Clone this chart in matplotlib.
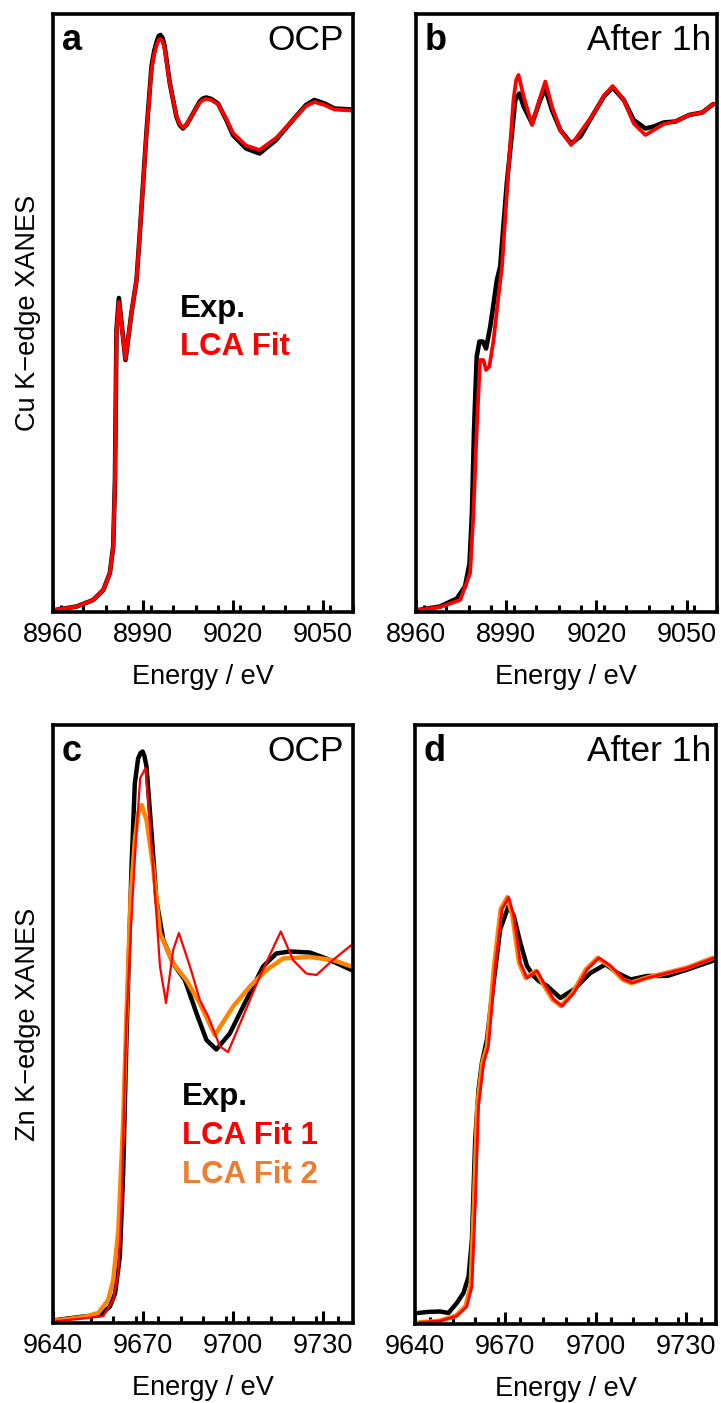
import matplotlib
matplotlib.use("Agg")
import matplotlib.pyplot as plt
from matplotlib.ticker import MultipleLocator

plt.rcParams['font.family'] = ['Liberation Sans', 'DejaVu Sans']

# ---- Cu K-edge, OCP (panel a) ----
cu_ocp_e = [8960.6, 8967.8, 8973.3, 8976.7, 8978.9, 8980.0, 8980.6, 8981.1, 8981.9,
            8984.1, 8986.1, 8987.8, 8988.9, 8991.1, 8992.8, 8993.7, 8994.5, 8995.2, 8995.8,
            8996.5, 8997.2, 8998.9, 9001.1, 9002.2, 9003.3, 9004.6, 9006.1, 9008.9,
            9010.0, 9011.1, 9012.8, 9015.0, 9017.8, 9020.0, 9024.4, 9028.9, 9034.4,
            9040.0, 9044.4, 9047.2, 9050.6, 9053.9, 9059.4]
cu_ocp_exp = [0.004, 0.011, 0.024, 0.044, 0.078, 0.131, 0.264, 0.564, 0.628,
              0.504, 0.598, 0.664, 0.758, 0.958, 1.091, 1.122, 1.140, 1.152, 1.154,
              1.148, 1.131, 1.058, 0.991, 0.974, 0.967, 0.975, 0.991, 1.021,
              1.027, 1.029, 1.026, 1.017, 0.984, 0.954, 0.927, 0.917, 0.944,
              0.984, 1.014, 1.024, 1.017, 1.007, 1.005]
cu_ocp_fit = [0.004, 0.011, 0.024, 0.044, 0.078, 0.131, 0.264, 0.560, 0.620,
              0.506, 0.598, 0.664, 0.758, 0.955, 1.085, 1.116, 1.133, 1.144, 1.146,
              1.141, 1.126, 1.058, 0.993, 0.976, 0.969, 0.976, 0.991, 1.019,
              1.024, 1.026, 1.024, 1.016, 0.986, 0.958, 0.933, 0.924, 0.948,
              0.984, 1.012, 1.020, 1.014, 1.005, 1.003]

# ---- Cu K-edge, after 1h (panel b) ----
cu_1h_e_exp = [8960.8, 8968.0, 8973.6, 8976.3, 8977.8, 8978.6, 8979.3, 8980.2, 8981.1,
               8982.2, 8983.3, 8984.7, 8985.8, 8986.9, 8988.0, 8990.2, 8991.9, 8993.0,
               8994.4, 8995.8, 8998.6, 9001.3, 9003.0, 9005.2, 9008.0, 9011.6, 9014.7,
               9019.1, 9022.5, 9025.4, 9029.1, 9032.4, 9036.3, 9039.1, 9042.4, 9046.3,
               9050.8, 9055.2, 9058.9]
cu_1h_exp = [0.004, 0.011, 0.027, 0.051, 0.097, 0.197, 0.364, 0.511, 0.541,
             0.541, 0.527, 0.571, 0.617, 0.664, 0.691, 0.857, 0.957, 1.024,
             1.037, 1.011, 0.977, 1.024, 1.047, 1.004, 0.964, 0.937, 0.951,
             0.997, 1.031, 1.049, 1.024, 0.984, 0.967, 0.971, 0.979, 0.981,
             0.994, 0.999, 1.016]
cu_1h_e_fit = [8960.8, 8968.0, 8974.7, 8978.0, 8979.1, 8980.2, 8981.3, 8982.4, 8983.3,
               8984.4, 8985.8, 8987.4, 8988.6, 8990.8, 8992.4, 8993.3, 8994.1, 8995.8,
               8998.6, 9001.0, 9003.0, 9005.2, 9008.0, 9011.6, 9019.1, 9022.5, 9025.4,
               9029.1, 9032.4, 9036.3, 9039.1, 9042.4, 9046.3, 9050.8, 9055.2, 9058.9]
cu_1h_fit = [0.004, 0.010, 0.024, 0.078, 0.197, 0.364, 0.504, 0.504, 0.484,
             0.491, 0.544, 0.631, 0.691, 0.891, 1.024, 1.064, 1.074, 1.031,
             0.974, 1.024, 1.061, 1.011, 0.964, 0.934, 0.997, 1.033, 1.052,
             1.024, 0.977, 0.954, 0.964, 0.976, 0.981, 0.994, 0.999, 1.016]

# ---- Zn K-edge, OCP (panel c) ----
zn_ocp_e_exp = [9641.1, 9650.0, 9655.6, 9658.9, 9660.6, 9662.2, 9663.3, 9664.4,
                9666.1, 9667.2, 9668.3, 9669.1, 9669.8, 9670.4, 9671.1, 9672.8, 9674.4,
                9676.7, 9680.0, 9683.9, 9687.8, 9691.1, 9694.4, 9698.9, 9704.4, 9710.0,
                9714.4, 9718.9, 9725.6, 9731.1, 9739.5]
zn_ocp_exp = [0.006, 0.013, 0.016, 0.033, 0.059, 0.133, 0.299, 0.566,
              0.913, 1.079, 1.129, 1.140, 1.143, 1.134, 1.113, 0.979, 0.846,
              0.766, 0.719, 0.686, 0.619, 0.566, 0.547, 0.579, 0.646, 0.713,
              0.739, 0.743, 0.741, 0.729, 0.706]
zn_ocp_e_fit1 = [9641.0, 9650.0, 9656.7, 9660.0, 9661.7, 9662.8, 9663.9, 9664.4, 9665.8,
                 9667.5, 9669.0, 9670.8, 9673.3, 9675.6, 9677.6, 9680.0, 9681.9, 9685.6,
                 9688.9, 9691.7, 9695.6, 9698.3, 9703.3, 9708.9, 9715.9, 9720.0, 9724.4,
                 9727.8, 9733.3, 9739.5]
zn_ocp_fit1 = [0.004, 0.009, 0.014, 0.046, 0.100, 0.233, 0.500, 0.600, 0.780,
               0.960, 1.090, 1.110, 0.913, 0.713, 0.640, 0.746, 0.780, 0.713,
               0.646, 0.613, 0.553, 0.542, 0.613, 0.693, 0.783, 0.726, 0.699,
               0.696, 0.726, 0.756]
zn_ocp_e_fit2 = [9641.0, 9650.0, 9655.0, 9658.3, 9660.0, 9661.7, 9663.3, 9664.4, 9665.8,
                 9667.2, 9668.3, 9669.5, 9671.1, 9673.3, 9675.6, 9680.0, 9684.4, 9688.9,
                 9693.9, 9700.0, 9705.6, 9711.1, 9716.7, 9725.6, 9733.3, 9739.5]
zn_ocp_fit2 = [0.005, 0.012, 0.020, 0.046, 0.086, 0.186, 0.400, 0.613, 0.853,
               0.966, 1.020, 1.036, 1.006, 0.913, 0.780, 0.719, 0.686, 0.639,
               0.576, 0.633, 0.673, 0.706, 0.729, 0.732, 0.726, 0.713]

# ---- Zn K-edge, after 1h (panel d) ----
zn_1h_e_exp = [9641.1, 9644.0, 9648.3, 9651.1, 9653.9, 9656.1, 9657.8, 9658.9, 9660.0,
               9661.1, 9662.2, 9663.9, 9666.1, 9668.3, 9671.1, 9672.8, 9675.0, 9677.2,
               9679.4, 9681.1, 9683.9, 9688.3, 9692.8, 9698.3, 9703.3, 9707.2, 9711.7,
               9717.2, 9723.9, 9730.6, 9738.9]
zn_1h_exp = [0.022, 0.024, 0.025, 0.022, 0.042, 0.062, 0.095, 0.168, 0.368,
             0.468, 0.521, 0.568, 0.681, 0.788, 0.835, 0.815, 0.761, 0.715,
             0.695, 0.685, 0.675, 0.651, 0.668, 0.701, 0.718, 0.701, 0.688,
             0.695, 0.695, 0.708, 0.725]
zn_1h_e_fit = [9641.7, 9648.3, 9653.9, 9657.2, 9658.9, 9660.0, 9661.1, 9662.8, 9664.4,
               9666.7, 9668.9, 9671.1, 9672.8, 9675.0, 9677.2, 9680.6, 9682.8, 9686.1,
               9688.9, 9692.8, 9697.2, 9701.1, 9705.0, 9709.4, 9712.2, 9717.2, 9723.9,
               9730.6, 9739.4]
zn_1h_fit = [0.003, 0.006, 0.016, 0.035, 0.075, 0.235, 0.435, 0.521, 0.555,
             0.715, 0.828, 0.852, 0.815, 0.721, 0.691, 0.705, 0.681, 0.648,
             0.635, 0.661, 0.708, 0.731, 0.715, 0.688, 0.681, 0.691, 0.701,
             0.711, 0.731]
zn_1h_e_fit2 = [e - 0.4 for e in zn_1h_e_fit]
zn_1h_fit2 = zn_1h_fit

W, H = 721, 1403
fig = plt.figure(figsize=(W / 100, H / 100), dpi=100)


def make_ax(left, top, right, bottom):
    return fig.add_axes([left / W, 1 - bottom / H, (right - left) / W, (bottom - top) / H])


ax_a = make_ax(53.3, 14, 352.7, 612)
ax_b = make_ax(416, 14, 716.7, 612)
ax_c = make_ax(53.3, 725, 353, 1323)
ax_d = make_ax(415, 725, 716, 1324)

kw = dict(solid_joinstyle='round', solid_capstyle='round')
# panel a
ax_a.plot(cu_ocp_e, cu_ocp_exp, color='black', lw=3.3, **kw)
ax_a.plot(cu_ocp_e, cu_ocp_fit, color='#ff0000', lw=2.7, **kw)
# panel b
ax_b.plot(cu_1h_e_exp, cu_1h_exp, color='black', lw=3.3, **kw)
ax_b.plot(cu_1h_e_fit, cu_1h_fit, color='#ff0000', lw=2.7, **kw)
# panel c
ax_c.plot(zn_ocp_e_exp, zn_ocp_exp, color='black', lw=3.2, **kw)
ax_c.plot(zn_ocp_e_fit2, zn_ocp_fit2, color='#ff8400', lw=3.2, **kw)
ax_c.plot(zn_ocp_e_fit1, zn_ocp_fit1, color='#ff0000', lw=1.6, **kw)
# panel d
ax_d.plot(zn_1h_e_exp, zn_1h_exp, color='black', lw=3.2, **kw)
ax_d.plot(zn_1h_e_fit2, zn_1h_fit2, color='#ff8400', lw=3.4, **kw)
ax_d.plot(zn_1h_e_fit, zn_1h_fit, color='#ff0000', lw=2.0, **kw)

for ax, xmin, ticks in [(ax_a, 8960, [8960, 8990, 9020, 9050]),
                        (ax_b, 8960, [8960, 8990, 9020, 9050]),
                        (ax_c, 9640, [9640, 9670, 9700, 9730]),
                        (ax_d, 9640, [9640, 9670, 9700, 9730])]:
    ax.set_xlim(xmin, xmin + 100)
    ax.set_ylim(0, 1.196)
    ax.set_xticks(ticks)
    ax.xaxis.set_minor_locator(MultipleLocator(7.5))
    ax.tick_params(axis='x', which='major', direction='in', length=8.5, width=2.2,
                   labelsize=19.5, pad=7)
    ax.tick_params(axis='x', which='minor', direction='in', length=5, width=2.2)
    ax.set_yticks([])
    for s in ax.spines.values():
        s.set_linewidth(2.6)
    ax.set_xlabel('Energy / eV', fontsize=19.5, labelpad=12)

ax_a.set_ylabel('Cu K\u2212edge XANES', fontsize=19.5, labelpad=9)
ax_c.set_ylabel('Zn K\u2212edge XANES', fontsize=19.5, labelpad=9)

for ax, letter, cond, rx in [(ax_a, 'a', 'OCP', 0.969), (ax_b, 'b', 'After 1h', 0.983),
                             (ax_c, 'c', 'OCP', 0.969), (ax_d, 'd', 'After 1h', 0.983)]:
    ax.text(0.029, 0.940, letter, transform=ax.transAxes, fontsize=26,
            fontweight='bold', va='baseline', ha='left')
    ax.text(rx, 0.940, cond, transform=ax.transAxes, fontsize=25.5,
            va='baseline', ha='right')

ax_a.text(0.423, 0.493, 'Exp.', transform=ax_a.transAxes, fontsize=22.5,
          fontweight='bold', color='black', va='baseline')
ax_a.text(0.423, 0.430, 'LCA Fit', transform=ax_a.transAxes, fontsize=22.5,
          fontweight='bold', color='#ff0000', va='baseline')

ax_c.text(0.428, 0.365, 'Exp.', transform=ax_c.transAxes, fontsize=22.5,
          fontweight='bold', color='black', va='baseline')
ax_c.text(0.428, 0.299, 'LCA Fit 1', transform=ax_c.transAxes, fontsize=22.5,
          fontweight='bold', color='#ff0000', va='baseline')
ax_c.text(0.428, 0.234, 'LCA Fit 2', transform=ax_c.transAxes, fontsize=22.5,
          fontweight='bold', color='#ed7d31', va='baseline')

fig.savefig('out.png', dpi=100)
